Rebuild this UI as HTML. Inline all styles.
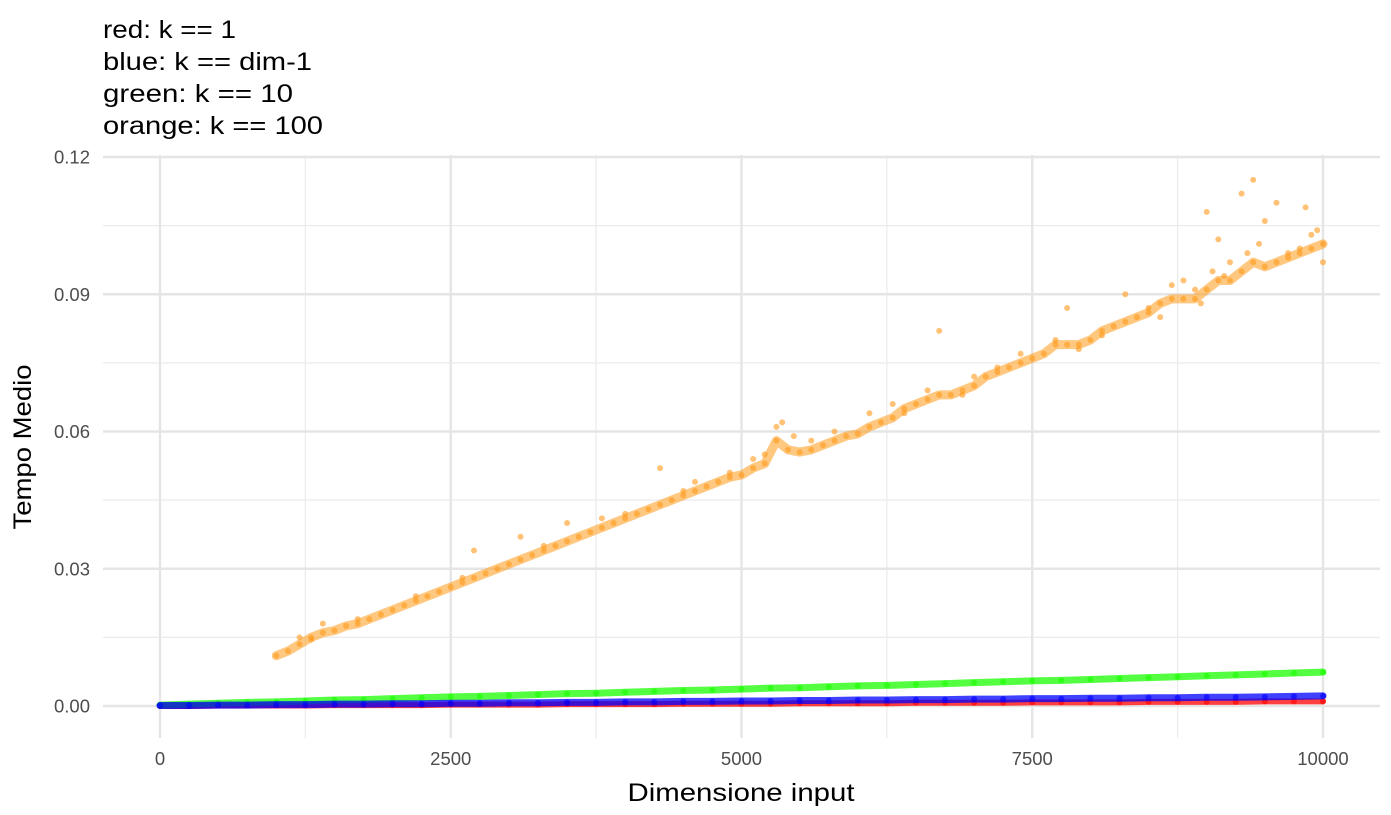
<!DOCTYPE html>
<html><head><meta charset="utf-8"><style>
body{margin:0;background:#fff;}
svg{display:block;font-family:"Liberation Sans",Arial,sans-serif;}
</style></head><body>
<svg id="chart" width="1391" height="815">
<g font-size="25" fill="#000">
<text x="103" y="38" textLength="133" lengthAdjust="spacingAndGlyphs">red: k == 1</text>
<text x="103" y="70" textLength="209" lengthAdjust="spacingAndGlyphs">blue: k == dim-1</text>
<text x="103" y="102" textLength="190" lengthAdjust="spacingAndGlyphs">green: k == 10</text>
<text x="103" y="134" textLength="220" lengthAdjust="spacingAndGlyphs">orange: k == 100</text>
</g>
<g id="grid"></g>
<g id="axes"></g>
<g id="marks"></g>
<text x="741" y="801" text-anchor="middle" font-size="25" textLength="227" lengthAdjust="spacingAndGlyphs" fill="#000">Dimensione input</text>
<text transform="translate(31,447) rotate(-90)" text-anchor="middle" font-size="25" textLength="165" lengthAdjust="spacingAndGlyphs" fill="#000">Tempo Medio</text>
</svg>
<script>
const xTicks=[0,2500,5000,7500,10000];
const xTickLabels=["0","2500","5000","7500","10000"];
const yTicks=[0,0.03,0.06,0.09,0.12];
const yTickLabels=["0.00","0.03","0.06","0.09","0.12"];
const orangeX0=1000, orangeStep=100;
const orangeY=[0.011,0.012,0.0135,0.015,0.016,0.0165,0.0175,0.018,0.019,0.020,0.021,0.022,0.023,0.024,0.025,0.026,0.027,0.028,0.029,0.030,0.031,0.032,0.033,0.034,0.035,0.036,0.037,0.038,0.039,0.040,0.041,0.042,0.043,0.044,0.045,0.046,0.047,0.048,0.049,0.050,0.0505,0.052,0.053,0.058,0.056,0.0555,0.056,0.057,0.058,0.059,0.0595,0.061,0.062,0.063,0.065,0.066,0.067,0.068,0.068,0.069,0.070,0.072,0.073,0.074,0.075,0.076,0.077,0.079,0.079,0.079,0.080,0.082,0.083,0.084,0.085,0.086,0.088,0.089,0.089,0.089,0.091,0.093,0.093,0.095,0.097,0.096,0.097,0.098,0.099,0.100,0.101];
const orangeOutX=[1200,1400,2700,3100,3500,4300,4600,5200,5350,5600,6700,7000,7800,8300,8800,9000,9100,9300,9400,9500,9600,9850,9950,3800,4900,6100,1300,1700,2200,2600,3300,4000,4500,5100,5300,5450,5800,6300,6600,7200,7400,7700,8100,8500,8700,8900,9050,9200,9350,9450,9700,9800,9900,10000,9150,8950,8600,7900,6900,6400];
const orangeOutY=[0.015,0.018,0.034,0.037,0.040,0.052,0.049,0.055,0.062,0.058,0.082,0.072,0.087,0.090,0.093,0.108,0.102,0.112,0.115,0.106,0.110,0.109,0.104,0.041,0.051,0.064,0.0145,0.019,0.024,0.028,0.035,0.042,0.047,0.054,0.061,0.059,0.060,0.066,0.069,0.074,0.077,0.080,0.081,0.087,0.092,0.091,0.095,0.097,0.099,0.101,0.099,0.100,0.103,0.097,0.094,0.088,0.085,0.078,0.068,0.064];
const lowX0=0, lowStep=250;
const greenY=[0.0002,0.0004,0.0006,0.0008,0.0009,0.0011,0.0013,0.0014,0.0016,0.0018,0.0020,0.0021,0.0023,0.0025,0.0027,0.0028,0.0030,0.0032,0.0034,0.0035,0.0037,0.0039,0.0040,0.0042,0.0044,0.0045,0.0047,0.0049,0.0051,0.0053,0.0055,0.0056,0.0058,0.0060,0.0062,0.0064,0.0066,0.0068,0.0070,0.0072,0.0074];
const blueY=[0.0001,0.0001,0.0002,0.0002,0.0003,0.0003,0.0004,0.0004,0.0005,0.0005,0.0006,0.0006,0.0007,0.0007,0.0008,0.0008,0.0009,0.0009,0.0010,0.0010,0.0011,0.0011,0.0012,0.0012,0.0013,0.0013,0.0014,0.0014,0.0015,0.0015,0.0016,0.0016,0.0017,0.0017,0.0018,0.0018,0.0019,0.0019,0.0020,0.0021,0.0022];
const redY=[0.0000,0.0000,0.0001,0.0001,0.0001,0.0001,0.0002,0.0002,0.0002,0.0002,0.0003,0.0003,0.0003,0.0003,0.0004,0.0004,0.0004,0.0004,0.0005,0.0005,0.0005,0.0005,0.0006,0.0006,0.0006,0.0006,0.0007,0.0007,0.0007,0.0007,0.0008,0.0008,0.0008,0.0008,0.0009,0.0009,0.0009,0.0009,0.0010,0.0010,0.0010];
const NS="http://www.w3.org/2000/svg";
const sx=v=>160+v/10000*1163;
const sy=v=>706-v/0.12*549;
function mk(tag,attrs,parent){const e=document.createElementNS(NS,tag);for(const k in attrs)e.setAttribute(k,attrs[k]);parent.appendChild(e);return e;}
const grid=document.getElementById('grid'),axes=document.getElementById('axes'),marks=document.getElementById('marks');
for(let i=0;i<xTicks.length-1;i++){const m=(xTicks[i]+xTicks[i+1])/2;
 const l=mk('line',{x1:sx(m),x2:sx(m),y1:155,y2:738,stroke:'#ebebeb','stroke-width':1.2},grid);
 
 }
for(let i=0;i<yTicks.length-1;i++){const m=(yTicks[i]+yTicks[i+1])/2;
 const l=mk('line',{x1:103,x2:1380,y1:sy(m),y2:sy(m),stroke:'#ebebeb','stroke-width':1.2},grid);
 
 }
xTicks.forEach((t,i)=>{
 const l=mk('line',{x1:sx(t),x2:sx(t),y1:155,y2:738,stroke:'#e5e5e5','stroke-width':2.4},grid);
 
 
 const tx=mk('text',{x:sx(t),y:765,'text-anchor':'middle','font-size':18.5,fill:'#4d4d4d'},axes);
 tx.textContent=xTickLabels[i];
 
 });
yTicks.forEach((t,i)=>{
 const l=mk('line',{x1:103,x2:1380,y1:sy(t),y2:sy(t),stroke:'#e5e5e5','stroke-width':2.4},grid);
 
 
 const tx=mk('text',{x:90,y:sy(t)+6.5,'text-anchor':'end','font-size':18.5,fill:'#4d4d4d'},axes);
 tx.textContent=yTickLabels[i];
 
 });
function series(name,x0,step,ys,color,w,op){
 const pts=ys.map((v,i)=>sx(x0+i*step)+','+sy(v)).join(' ');
 const pl=mk('polyline',{points:pts,fill:'none',stroke:color,'stroke-width':w,'stroke-opacity':op,'stroke-linecap':'round','stroke-linejoin':'round'},marks);
 
 
 ys.forEach((v,i)=>{
  const c=mk('circle',{cx:sx(x0+i*step),cy:sy(v),r:3,fill:color,'fill-opacity':0.6},marks);
  
  });
}
series('orange-series',orangeX0,orangeStep,orangeY,'#ff9a1a',9,0.55);
orangeOutX.forEach((x,i)=>{
 const c=mk('circle',{cx:sx(x),cy:sy(orangeOutY[i]),r:3,fill:'#ff9a1a','fill-opacity':0.6},marks);
 
 });
series('red-series',lowX0,lowStep,redY,'#ff0000',6,0.75);
series('green-series',lowX0,lowStep,greenY,'#19ff00',7,0.75);
series('blue-series',lowX0,lowStep,blueY,'#0000ff',7,0.75);
</script>
</body></html>
